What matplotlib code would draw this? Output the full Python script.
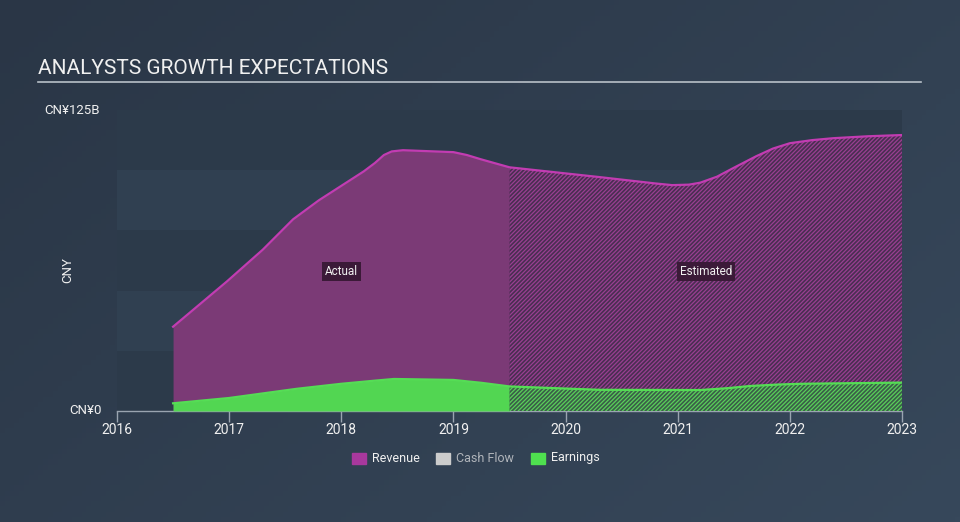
import numpy as np
import matplotlib
matplotlib.use("Agg")
import matplotlib.pyplot as plt
from matplotlib.patches import Rectangle

plt.rcParams['font.family'] = ['Roboto', 'DejaVu Sans']

# revenue, CNY billions
rev_years = [2016.5, 2016.98, 2017.3, 2017.57, 2017.8, 2018.05, 2018.2, 2018.3, 2018.38,
             2018.45, 2018.55, 2019.0, 2019.12, 2019.24, 2019.5, 2020.31, 2020.8, 2020.95,
             2021.1, 2021.2, 2021.35, 2021.5, 2021.7, 2021.85, 2022.0, 2022.2, 2022.39,
             2022.7, 2023.0]
revenue = [35.0, 53.8, 67.0, 79.6, 87.5, 95.0, 99.5, 103.0, 106.3,
           107.8, 108.3, 107.5, 106.3, 104.6, 101.2, 97.1, 94.5, 93.8,
           94.0, 94.8, 97.3, 101.0, 105.8, 109.0, 111.2, 112.5, 113.3,
           114.1, 114.6]

# earnings, CNY billions
earn_years = [2016.5, 2017.0, 2017.6, 2018.0, 2018.3, 2018.47, 2019.0, 2019.25, 2019.5,
              2020.3, 2021.2, 2021.45, 2021.65, 2021.9, 2022.1, 2023.0]
earnings = [3.2, 5.4, 9.2, 11.3, 12.6, 13.3, 12.9, 11.7, 10.2,
            8.8, 8.7, 9.5, 10.4, 11.0, 11.3, 11.8]

split_year = 2019.5
x_ticks = [2016, 2017, 2018, 2019, 2020, 2021, 2022, 2023]

W, H = 960, 522
fig = plt.figure(figsize=(W / 100, H / 100), dpi=100)

# background gradient
bg = fig.add_axes([0, 0, 1, 1])
gx, gy = np.meshgrid(np.linspace(0, 1, 200), np.linspace(0, 1, 100))
g = 0.6 * gx + 0.4 * gy
c0 = np.array([0x2a, 0x36, 0x46]) / 255
c1 = np.array([0x37, 0x48, 0x5b]) / 255
img = c0 + (c1 - c0) * g[..., None]
bg.imshow(img, aspect='auto', extent=[0, 1, 0, 1], origin='upper')
bg.axis('off')

# title
fig.text(38 / W, 1 - 68 / H, "ANALYSTS GROWTH EXPECTATIONS", color='#f0f0f0',
         fontsize=15, va='center', ha='left')
fig.add_artist(plt.Line2D([38 / W, 921 / W], [1 - 82 / H, 1 - 82 / H],
                          color='#b8c0c8', lw=1.2))

ax = fig.add_axes([117 / W, 1 - 411 / H, (902 - 117) / W, (411 - 110) / H])
ax.set_facecolor('none')
ax.set_xlim(2016, 2023)
ax.set_ylim(0, 125)

# alternating bands
for i in range(5):
    col = '#2c3a4a' if i % 2 == 0 else '#304051'
    ax.axhspan(125 - 25 * (i + 1), 125 - 25 * i, color=col, lw=0, zorder=0)

rx = np.array(rev_years)
rv = np.array(revenue)
ex = np.array(earn_years)
ev = np.array(earnings)

plt.rcParams['hatch.linewidth'] = 0.9

# revenue actual / estimated
ma = rx <= split_year
ax.fill_between(rx[ma], 0, rv[ma], color='#7b3a76', lw=0, zorder=2)
mb = rx >= split_year
ax.fill_between(rx[mb], 0, rv[mb], facecolor='#4a2e52', edgecolor='#9a3f92',
                hatch='/' * 8, lw=0, zorder=2)
ax.plot(rx, rv, color='#c23cb2', lw=1.6, zorder=4, solid_joinstyle='round')

# earnings
ma = ex <= split_year
ax.fill_between(ex[ma], 0, ev[ma], color='#52d652', lw=0, zorder=3)
mb = ex >= split_year
ax.fill_between(ex[mb], 0, ev[mb], facecolor='#3a5e48', edgecolor='#5ad05a',
                hatch='/' * 8, lw=0, zorder=3)
ax.plot(ex, ev, color='#55dd55', lw=1.6, zorder=5, solid_joinstyle='round')

# labels
box = dict(boxstyle='square,pad=0.25', fc='#3b1a38', ec='none')
ax.text(2018.0, 58, "Actual", color='#f0f0f0', fontsize=8.5, ha='center',
        va='center', bbox=box, zorder=6)
ax.text(2021.25, 58, "Estimated", color='#f0f0f0', fontsize=8.5, ha='center',
        va='center', bbox=box, zorder=6)

for s in ['top', 'right', 'left']:
    ax.spines[s].set_visible(False)
ax.spines['bottom'].set_color('#9aa4b0')
ax.spines['bottom'].set_linewidth(1)
ax.set_xticks(x_ticks)
ax.set_xticklabels([str(t) for t in x_ticks])
ax.tick_params(axis='x', colors='#9aa4b0', length=8, width=1, labelcolor='#f0f0f0',
               labelsize=10, pad=1)
ax.set_yticks([])

fig.text(100 / W, 1 - 110 / H, "CN¥125B", color='#f0f0f0', fontsize=9.5,
         ha='right', va='center')
fig.text(102 / W, 1 - 410 / H, "CN¥0", color='#f0f0f0', fontsize=9.5,
         ha='right', va='center')
fig.text(68 / W, 1 - 270 / H, "CNY", color='#f0f0f0', fontsize=9.5,
         ha='center', va='center', rotation=90)

# legend
items = [("Revenue", '#a8389d', '#f0f0f0', 352),
         ("Cash Flow", '#cccccc', '#b0b4ba', 436),
         ("Earnings", '#4fe04f', '#f0f0f0', 531)]
for name, sq, tc, px in items:
    fig.add_artist(Rectangle((px / W, 1 - 464 / H), 14 / W, 11 / H,
                             transform=fig.transFigure, color=sq))
    fig.text((px + 20) / W, 1 - 458 / H, name, color=tc, fontsize=9,
             ha='left', va='center')

fig.savefig("out.png", dpi=100)
